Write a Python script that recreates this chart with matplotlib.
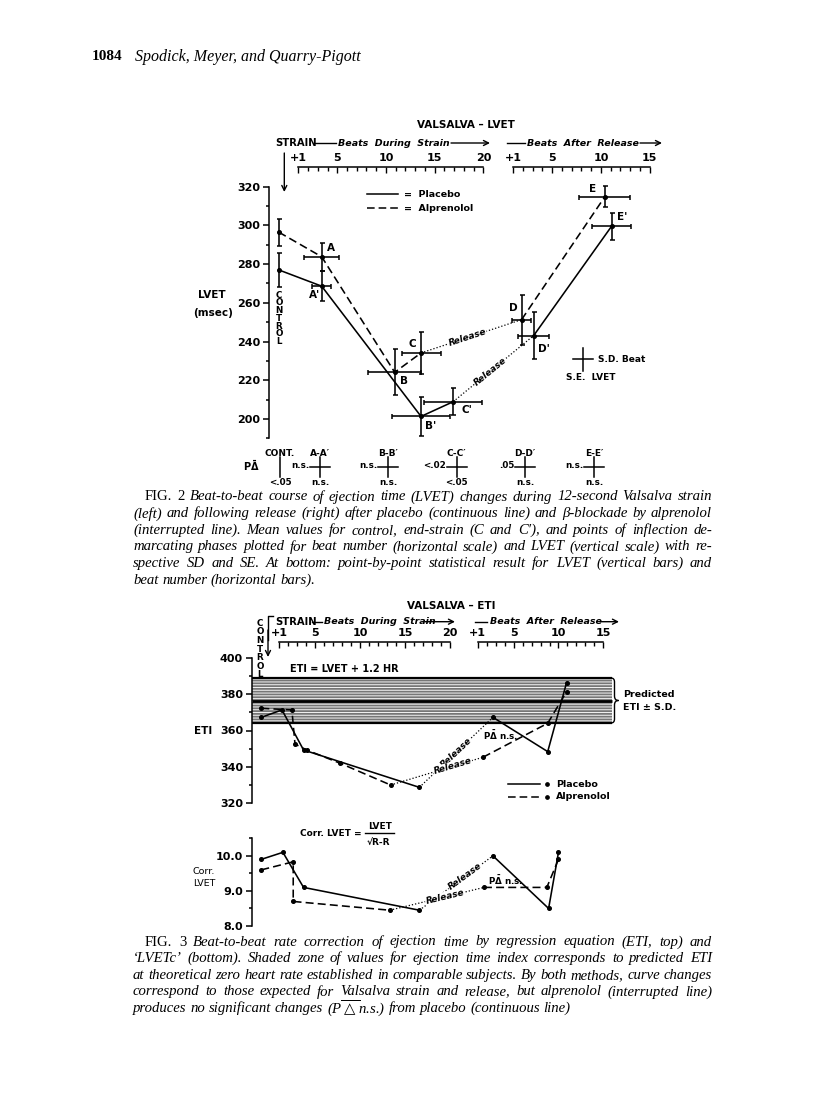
import numpy as np
import matplotlib.pyplot as plt
from matplotlib.ticker import FixedLocator, MultipleLocator
from matplotlib.path import Path
from matplotlib.patches import PathPatch

W, H = 816, 1119
SANS = ['DejaVu Sans']
SERIF = ['Liberation Serif', 'DejaVu Serif']

## Fig. 2 data : LVET (msec)
# beat number on the strain scale (control drawn at -1) or on the release scale when after == 1
lvet_after = [0, 0, 0, 0, 1, 1]
lvet_plc_beat = [-1, 3.4, 13.6, 16.9, 3.1, 11.1]
lvet_plc = [277.0, 268.6, 201.3, 208.9, 243.1, 299.6]
lvet_plc_sd_beat = [0, 1.0, 3.0, 3.0, 1.6, 2.0]
lvet_plc_se = [8.7, 7.6, 10.0, 7.0, 12.0, 7.0]
lvet_plc_names = ["", "A'", "B'", "C'", "D'", "E'"]

lvet_alp_beat = [-1, 3.4, 10.9, 13.6, 1.85, 10.4]
lvet_alp = [296.5, 283.8, 224.1, 234.1, 251.3, 314.8]
lvet_alp_sd_beat = [0, 1.8, 2.7, 2.0, 1.0, 2.6]
lvet_alp_se = [7.0, 7.3, 11.8, 11.0, 13.0, 5.5]
lvet_alp_names = ["", "A", "B", "C", "D", "E"]

# point-by-point comparison under fig. 2
stat_pairs = ["CONT.", "A-A′", "B-B′", "C-C′", "D-D′", "E-E′"]
stat_p_beat = ["", "n.s.", "n.s.", "<.02", ".05", "n.s."]
stat_p_lvet = ["<.05", "n.s.", "n.s.", "<.05", "n.s.", "n.s."]

## Fig. 3 data : ETI and corrected LVET
eti_pred_mean = 376.5
eti_pred_sd = 12.5
eti_band_end = 16.0  # release beats

eti_plc_after = [0, 0, 0, 0, 1, 1, 1]
eti_plc_beat = [-1, 1.3, 3.7, 16.6, 2.7, 8.8, 10.9]
eti_plc = [367.3, 371.4, 349.2, 328.5, 367.3, 348.3, 386.5]
eti_alp_after = [0, 0, 0, 0, 0, 0, 1, 1, 1]
eti_alp_beat = [-1, 2.4, 2.75, 4.05, 7.8, 13.4, 1.6, 8.8, 10.9]
eti_alp = [372.3, 371.4, 352.5, 349.2, 341.8, 329.8, 345.2, 364.0, 381.5]

cor_after = [0, 0, 0, 0, 1, 1, 1]
cor_plc_beat = [-1, 1.4, 3.7, 16.6, 2.7, 8.9, 10.0]
cor_plc = [9.9, 10.1, 9.1, 8.45, 10.0, 8.5, 10.1]
cor_alp_beat = [-1, 2.55, 2.55, 13.3, 1.7, 8.7, 10.0]
cor_alp = [9.6, 9.83, 8.7, 8.45, 9.1, 9.1, 9.9]

cap2 = ["FIG. 2 Beat-to-beat course of ejection time (LVET) changes during 12-second Valsalva strain",
        "(left) and following release (right) after placebo (continuous line) and β-blockade by alprenolol",
        "(interrupted line). Mean values for control, end-strain (C and C′), and points of inflection de-",
        "marcating phases plotted for beat number (horizontal scale) and LVET (vertical scale) with re-",
        "spective SD and SE. At bottom: point-by-point statistical result for LVET (vertical bars) and",
        "beat number (horizontal bars)."]
cap3 = ["FIG. 3 Beat-to-beat rate correction of ejection time by regression equation (ETI, top) and",
        "‘LVETc’ (bottom). Shaded zone of values for ejection time index corresponds to predicted ETI",
        "at theoretical zero heart rate established in comparable subjects. By both methods, curve changes",
        "correspond to those expected for Valsalva strain and release, but alprenolol (interrupted line)",
        r"produces no significant changes (P$\overline{\triangle}$n.s.) from placebo (continuous line)"]

plt.rcParams['font.family'] = SANS
plt.rcParams['font.weight'] = 'bold'
plt.rcParams['hatch.linewidth'] = 0.7

fig = plt.figure(figsize=(W / 100, H / 100), dpi=100)

def box(x0, y0, x1, y1):
    return [x0 / W, 1 - y1 / H, (x1 - x0) / W, (y1 - y0) / H]

# page layer in pixel units
pg = fig.add_axes([0, 0, 1, 1], zorder=0)
pg.set_xlim(0, W)
pg.set_ylim(H, 0)
pg.axis('off')

def seg(x0, y0, x1, y1, **kw):
    pg.plot([x0, x1], [y0, y1], color='k', lw=kw.pop('lw', 1.0), **kw)

def arrow(x0, y0, x1, y1):
    pg.annotate('', xy=(x1, y1), xytext=(x0, y0),
                arrowprops=dict(arrowstyle='->', lw=1.0, color='k', mutation_scale=9,
                                shrinkA=0, shrinkB=0))

def value_axis(rect, xlim, ylim, major, minor, fmt):
    ax = fig.add_axes(rect, zorder=2)
    ax.patch.set_alpha(0)
    for s in ['top', 'right', 'bottom']:
        ax.spines[s].set_visible(False)
    ax.spines['left'].set_bounds(*ylim)
    ax.spines['left'].set_linewidth(1.1)
    ax.set_xlim(*xlim)
    ax.set_ylim(*ylim)
    ax.set_xticks([])
    ax.yaxis.set_major_locator(MultipleLocator(major))
    ax.yaxis.set_minor_locator(MultipleLocator(minor))
    ax.yaxis.set_major_formatter(fmt)
    ax.tick_params(axis='y', which='major', length=4.3, width=1.1, labelsize=8, pad=2)
    ax.tick_params(axis='y', which='minor', length=2.4, width=1.1)
    return ax

def beat_scale(rect, xlim, shift, last, labels):
    s = fig.add_axes(rect, zorder=2)
    s.patch.set_alpha(0)
    s.set_xlim(xlim[0] - shift, xlim[1] - shift)
    for k in ['left', 'right', 'bottom']:
        s.spines[k].set_visible(False)
    s.spines['top'].set_bounds(1, last)
    s.spines['top'].set_linewidth(1.1)
    s.xaxis.set_ticks_position('top')
    s.set_xticks([1] + list(range(5, last + 1, 5)), labels)
    s.xaxis.set_minor_locator(FixedLocator(range(1, last + 1)))
    s.tick_params(axis='x', which='major', direction='in', length=4.5, width=1.0,
                  labelsize=8, pad=3)
    s.tick_params(axis='x', which='minor', direction='in', length=3, width=1.0)
    s.set_yticks([])
    return s

def series(ax, beat, after, val, rel, ls, frac, xerr=None, yerr=None):
    x = np.array(beat) + rel * np.array(after)
    y = np.array(val)
    b = int(np.argmax(np.array(after) == 1))
    kw = dict(color='k', lw=1.15, marker='o', ms=2.6, clip_on=False)
    ax.plot(x[:b], y[:b], ls=ls, **kw)
    ax.plot(x[b - 1:b + 1], y[b - 1:b + 1], ls=(0, (1, 1.6)), color='k', lw=0.9)
    ax.plot(x[b:], y[b:], ls=ls, **kw)
    if xerr is not None:
        ax.errorbar(x, y, xerr=xerr, yerr=yerr, fmt='none', ecolor='k',
                    elinewidth=1.15, capsize=1.8, capthick=1.1, clip_on=False)
    p0 = ax.transData.transform((x[b - 1], y[b - 1]))
    p1 = ax.transData.transform((x[b], y[b]))
    ang = np.degrees(np.arctan2(p1[1] - p0[1], p1[0] - p0[0]))
    xm = x[b - 1] + frac * (x[b] - x[b - 1])
    ym = y[b - 1] + frac * (y[b] - y[b - 1])
    ax.text(xm, ym, 'Release', rotation=ang, rotation_mode='anchor', ha='center',
            va='center', style='italic', fontsize=6.5,
            bbox=dict(fc='white', ec='none', pad=0.4))
    return x, y

# ---------------- header ----------------
pg.text(92, 57, '1084', family=SERIF, weight='bold', fontsize=11, va='center')
pg.text(135, 57, 'Spodick, Meyer, and Quarry-Pigott', family=SERIF, weight='normal',
        style='italic', fontsize=11.5, va='center')

# ---------------- Fig. 2 ----------------
px1, ppb, REL2 = 298.3, 9.74, 22.07
xl2 = (1 + (269.3 - px1) / ppb, 1 + (700 - px1) / ppb)
ax1 = value_axis(box(269.3, 186.7, 700, 438.3), xl2, (190, 320), 20, 10, '{x:.0f}')
beat_scale(box(269.3, 167, 700, 169), xl2, 0, 20, ['+1', '5', '10', '15', '20'])
beat_scale(box(269.3, 167, 700, 169), xl2, REL2, 15, ['+1', '5', '10', '15'])

xp, yp = series(ax1, lvet_plc_beat, lvet_after, lvet_plc, REL2, '-', 0.46,
                lvet_plc_sd_beat, lvet_plc_se)
xa, ya = series(ax1, lvet_alp_beat, lvet_after, lvet_alp, REL2, (0, (5, 2.6)), 0.46,
                lvet_alp_sd_beat, lvet_alp_se)
off_p = [(0, 0), (-4.8, -6), (7.2, -7.2), (10, -5.8), (7.7, -9.6), (7.6, 6.7)]
off_a = [(0, 0), (6.5, 6), (6.5, -6.5), (-6, 6.8), (-6, 8.4), (-9, 5.3)]
for xs, ys, names, offs in [(xp, yp, lvet_plc_names, off_p), (xa, ya, lvet_alp_names, off_a)]:
    for xi, yi, nm, o in zip(xs, ys, names, offs):
        if nm:
            ax1.annotate(nm, (xi, yi), xytext=o, textcoords='offset points',
                         ha='center', va='center', fontsize=7.5)

pg.text(466, 125, 'VALSALVA – LVET', ha='center', va='center', fontsize=7.5)
pg.text(275, 143, 'STRAIN', va='center', fontsize=7.2)
seg(314, 143, 336, 143)
pg.text(338, 143, 'Beats  During  Strain', va='center', style='italic', fontsize=6.8)
arrow(451, 143, 490, 143)
seg(507, 143, 525, 143)
pg.text(527, 143, 'Beats  After  Release', va='center', style='italic', fontsize=6.8)
arrow(640, 143, 662, 143)
arrow(284.3, 153, 284.3, 192)

seg(366.7, 194.3, 398, 194.3, lw=1.1)
seg(366.7, 208.3, 398, 208.3, lw=1.1, ls=(0, (5, 2.6)))
pg.text(404, 194.3, '=  Placebo', va='center', fontsize=6.8)
pg.text(404, 208.3, '=  Alprenolol', va='center', fontsize=6.8)

pg.text(212, 295, 'LVET', ha='center', va='center', fontsize=7.5)
pg.text(213, 313, '(msec)', ha='center', va='center', fontsize=7.5)
for i, ch in enumerate('CONTROL'):
    pg.text(279, 295 + i * 7.8, ch, ha='center', va='center', fontsize=6.3)

# S.D./S.E. key
seg(573, 359, 593, 359, lw=1.1)
seg(583, 347.7, 583, 371, lw=1.1)
pg.text(598, 359, 'S.D. Beat', va='center', fontsize=6.5)
pg.text(591, 378, 'S.E.  LVET', ha='center', va='center', fontsize=6.5)

# statistical row
stat_x = [280, 320, 388.3, 456.7, 525, 594]
pg.text(243, 466, r'P$\bar{\Delta}$', va='center', fontsize=7)
for sx, pair, pb, pl in zip(stat_x, stat_pairs, stat_p_beat, stat_p_lvet):
    pg.text(sx, 453, pair, ha='center', va='center', fontsize=6.5)
    seg(sx, 457, sx, 477, lw=1.1)
    if pb:
        seg(sx - 10, 467, sx + 10, 467, lw=1.1)
        pg.text(sx - 11, 466, pb, ha='right', va='center', fontsize=6.3)
    pg.text(sx, 482.5, pl, ha='center', va='center', fontsize=6.3)

# ---------------- Fig. 3 : ETI ----------------
qx1, qpb, REL3 = 279.3, 8.98, 22.09
xl3 = (1 + (251.7 - qx1) / qpb, 1 + (700 - qx1) / qpb)
ax3 = value_axis(box(251.7, 658.3, 700, 802.7), xl3, (320, 400), 20, 10, '{x:.0f}')
beat_scale(box(251.7, 642.3, 700, 644.3), xl3, 0, 20, ['+1', '5', '10', '15', '20'])
beat_scale(box(251.7, 642.3, 700, 644.3), xl3, REL3, 15, ['+1', '5', '10', '15'])

lo, hi = eti_pred_mean - eti_pred_sd, eti_pred_mean + eti_pred_sd
band_x = [xl3[0], eti_band_end + REL3]
ax3.fill_between(band_x, lo, hi, facecolor='#767676', edgecolor='#f2f2f2',
                 hatch='-' * 6, lw=0, zorder=0)
ax3.hlines([lo, eti_pred_mean, hi], band_x[0], band_x[1], color='k', lw=[1.6, 2.0, 1.6], zorder=1)

series(ax3, eti_plc_beat, eti_plc_after, eti_plc, REL3, '-', 0.5)
series(ax3, eti_alp_beat, eti_alp_after, eti_alp, REL3, (0, (5, 2.6)), 0.67)

pg.text(451, 606, 'VALSALVA – ETI', ha='center', va='center', fontsize=7.5)
pg.text(275, 621.7, 'STRAIN', va='center', fontsize=7.2)
seg(312, 621.7, 322, 621.7)
pg.text(324, 621.7, 'Beats  During  Strain', va='center', style='italic', fontsize=6.8)
arrow(425, 621.7, 455, 621.7)
seg(475, 621.7, 487, 621.7)
pg.text(490, 621.7, 'Beats  After  Release', va='center', style='italic', fontsize=6.8)
arrow(600, 621.7, 619, 621.7)
pg.plot([273, 268, 268], [616, 616, 640], color='k', lw=1.0)
arrow(268, 630, 268, 657)
for i, ch in enumerate('CONTROL'):
    pg.text(260, 623.3 + i * 8.6, ch, ha='center', va='center', fontsize=6.3)

pg.text(290, 669, 'ETI = LVET + 1.2 HR', va='center', fontsize=7)
pg.text(203, 731, 'ETI', ha='center', va='center', fontsize=7.5)
brace = [(611, 678), (614.5, 678), (614.5, 682), (614.5, 696), (614.5, 700.5), (618.5, 700.5),
         (614.5, 700.5), (614.5, 705), (614.5, 719), (614.5, 723), (611, 723)]
codes = [Path.MOVETO, Path.CURVE3, Path.CURVE3, Path.LINETO, Path.CURVE3, Path.CURVE3,
         Path.CURVE3, Path.CURVE3, Path.LINETO, Path.CURVE3, Path.CURVE3]
pg.add_patch(PathPatch(Path(brace, codes), fill=False, lw=1.0))
pg.text(623, 694.3, 'Predicted', va='center', fontsize=6.8)
pg.text(623, 707.3, 'ETI ± S.D.', va='center', fontsize=6.8)
pg.text(483, 735, r'P$\bar{\Delta}$ n.s.', va='center', fontsize=6.3)

seg(508, 784.3, 540, 784.3, lw=1.1)
seg(508, 796.7, 540, 796.7, lw=1.1, ls=(0, (5, 2.6)))
pg.plot([547, 547], [784.3, 796.7], 'ko', ms=2.4, ls='none')
pg.text(556, 784.3, 'Placebo', va='center', fontsize=6.8)
pg.text(556, 796.7, 'Alprenolol', va='center', fontsize=6.8)

# ---------------- Fig. 3 : corrected LVET ----------------
ax4 = value_axis(box(251.7, 838.3, 700, 926), xl3, (8.0, 10.5), 1.0, 0.5, '{x:.1f}')
series(ax4, cor_plc_beat, cor_after, cor_plc, REL3, '-', 0.62)
series(ax4, cor_alp_beat, cor_after, cor_alp, REL3, (0, (5, 2.6)), 0.585)

pg.text(300, 834, 'Corr. LVET =', va='center', fontsize=6.5)
pg.text(380, 826.5, 'LVET', ha='center', va='center', fontsize=6.5)
seg(365, 833, 394, 833, lw=1.0)
pg.text(378, 842.5, '√R-R', ha='center', va='center', fontsize=6.5)
pg.text(204, 871.7, 'Corr.', ha='center', va='center', fontsize=6.8, weight='normal')
pg.text(204, 883.3, 'LVET', ha='center', va='center', fontsize=6.8, weight='normal')
pg.text(488, 880, r'P$\bar{\Delta}$ n.s.', va='center', fontsize=6.3)

# ---------------- captions (justified) ----------------
renderer = fig.canvas.get_renderer()
CAP_L, CAP_R, FIG_IND = 133, 712, 12

def make_words(y, line):
    out = []
    for k, w in enumerate(line.split(' ')):
        upright = line.startswith('FIG.') and k < 2
        out.append(pg.text(0, y, w, family=SERIF, weight='normal', fontsize=10,
                           style='normal' if upright else 'italic', va='center'))
    return out

blocks = []
for lines, y0 in [(cap2, 497), (cap3, 942)]:
    for i, line in enumerate(lines):
        blocks.append((make_words(y0 + 16.6 * i, line), i == 0, i < len(lines) - 1))

# one font size for all captions, so that the fullest line needs no extra spacing
def natural(ts, size):
    ws = sum(t.get_window_extent(renderer).width for t in ts)
    return ws + (len(ts) - 1) * 0.25 * size * 100 / 72

ratio = min((CAP_R - CAP_L - (FIG_IND if first else 0)) / natural(ts, 10)
            for ts, first, just in blocks if just)
size = 10 * ratio
for ts, first, just in blocks:
    for t in ts:
        t.set_fontsize(size)
    ws = [t.get_window_extent(renderer).width for t in ts]
    x0 = CAP_L + (FIG_IND if first else 0)
    gap = (CAP_R - x0 - sum(ws)) / (len(ws) - 1) if just else 0.25 * size * 100 / 72
    x = x0
    for t, w in zip(ts, ws):
        t.set_x(x)
        x += w + gap

fig.savefig('out.png', dpi=100, facecolor='white')
